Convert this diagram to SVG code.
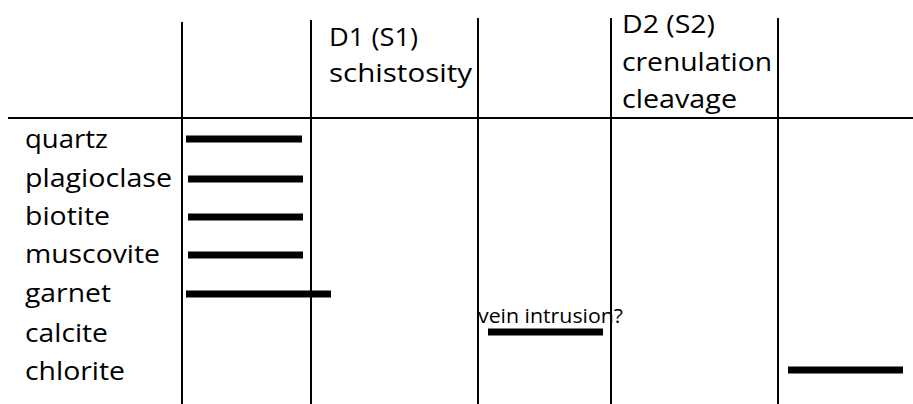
<svg xmlns="http://www.w3.org/2000/svg" width="913" height="404" viewBox="0 0 913 404">
<style>
.grid{stroke:#000;stroke-width:2;fill:none}
.bar{stroke:#000;stroke-width:7;stroke-linecap:butt}
.lbl{font-family:"Open Sans","Noto Sans",sans-serif;font-size:26px;fill:#000}
.sm{font-family:"Open Sans","Noto Sans",sans-serif;font-size:20px;fill:#000}
</style>
<rect width="913" height="404" fill="#fff"/>
<g id="labels">
<text class="lbl" x="25" y="148" textLength="83" lengthAdjust="spacingAndGlyphs">quartz</text>
<text class="lbl" x="25" y="187" textLength="147" lengthAdjust="spacingAndGlyphs">plagioclase</text>
<text class="lbl" x="25" y="225" textLength="85" lengthAdjust="spacingAndGlyphs">biotite</text>
<text class="lbl" x="25" y="263" textLength="135" lengthAdjust="spacingAndGlyphs">muscovite</text>
<text class="lbl" x="25" y="302" textLength="86" lengthAdjust="spacingAndGlyphs">garnet</text>
<text class="lbl" x="25" y="342" textLength="83" lengthAdjust="spacingAndGlyphs">calcite</text>
<text class="lbl" x="25" y="380" textLength="100" lengthAdjust="spacingAndGlyphs">chlorite</text>
</g>
<g id="header-d1">
<text class="lbl" x="329" y="46" textLength="89" lengthAdjust="spacingAndGlyphs">D1 (S1)</text>
<text class="lbl" x="329" y="82" textLength="143" lengthAdjust="spacingAndGlyphs">schistosity</text>
</g>
<g id="header-d2">
<text class="lbl" x="622" y="33" textLength="93" lengthAdjust="spacingAndGlyphs">D2 (S2)</text>
<text class="lbl" x="622" y="71" textLength="150" lengthAdjust="spacingAndGlyphs">crenulation</text>
<text class="lbl" x="622" y="108" textLength="115" lengthAdjust="spacingAndGlyphs">cleavage</text>
</g>
<g id="vein-note">
<text class="sm" x="478" y="323" textLength="145" lengthAdjust="spacingAndGlyphs">vein intrusion?</text>
</g>
<g id="grid">
<line class="grid" x1="8" y1="118" x2="913" y2="118"/>
<line class="grid" x1="182" y1="22" x2="182" y2="404"/>
<line class="grid" x1="311" y1="20" x2="311" y2="404"/>
<line class="grid" x1="478" y1="18" x2="478" y2="404"/>
<line class="grid" x1="611" y1="18" x2="611" y2="404"/>
<line class="grid" x1="778" y1="18" x2="778" y2="404"/>
</g>
<g id="bars">
<line class="bar" x1="186" y1="139" x2="302" y2="139"/>
<line class="bar" x1="188" y1="179" x2="303" y2="179"/>
<line class="bar" x1="188" y1="217" x2="303" y2="217"/>
<line class="bar" x1="188" y1="255" x2="303" y2="255"/>
<line class="bar" x1="186" y1="294" x2="331" y2="294"/>
<line class="bar" x1="488" y1="332" x2="603" y2="332"/>
<line class="bar" x1="788" y1="370" x2="903" y2="370"/>
</g>
</svg>
